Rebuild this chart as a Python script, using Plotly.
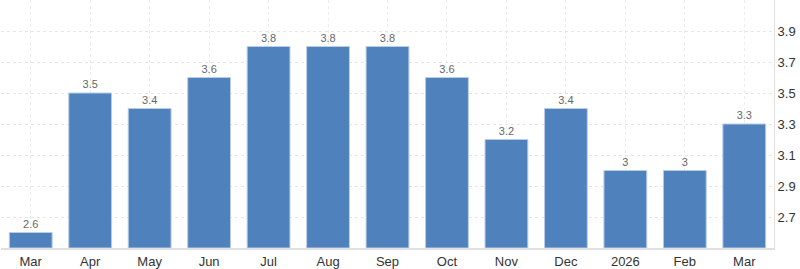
import plotly.graph_objects as go

labels = ["Mar", "Apr", "May", "Jun", "Jul", "Aug", "Sep", "Oct", "Nov", "Dec", "2026", "Feb", "Mar"]
values = [2.6, 3.5, 3.4, 3.6, 3.8, 3.8, 3.8, 3.6, 3.2, 3.4, 3.0, 3.0, 3.3]
ytick_vals = [2.7, 2.9, 3.1, 3.3, 3.5, 3.7, 3.9]
y_floor = 2.5

xs = list(range(len(labels)))

fig = go.Figure(go.Bar(
    x=xs, y=[round(v - y_floor, 6) for v in values],
    base=y_floor,
    marker=dict(color="#4f81bd", line=dict(color="#b9cce6", width=1)),
    text=[f"{v:g}" for v in values],
    textposition="outside",
    textfont=dict(family="Liberation Sans, Arial", size=11, color="#666666"),
    hovertemplate="%{text}<extra></extra>",
))

fig.update_layout(
    width=800, height=269,
    margin=dict(l=1, r=26, t=0, b=19),
    paper_bgcolor="white", plot_bgcolor="white",
    bargap=0.28,
    showlegend=False,
    font=dict(family="Liberation Sans, Arial", size=13, color="#333333"),
)
fig.update_xaxes(
    tickvals=xs, ticktext=labels, range=[-0.5, len(labels) - 0.5],
    showgrid=True, gridcolor="#ececec", griddash="dot", gridwidth=1,
    showline=True, linecolor="#e0e0e0", linewidth=2,
    ticks="", tickfont=dict(size=13, color="#333333"),
)
fig.update_yaxes(
    side="right", range=[y_floor, 4.1],
    tickvals=ytick_vals, ticktext=[f"{v:g}" for v in ytick_vals],
    showgrid=True, gridcolor="#e6e6e6", griddash="dot", gridwidth=1,
    showline=True, linecolor="#e0e0e0", linewidth=1,
    zeroline=False, ticks="", ticklabelstandoff=0,
    tickfont=dict(size=13, color="#333333"),
)

fig.write_html("out.html")
